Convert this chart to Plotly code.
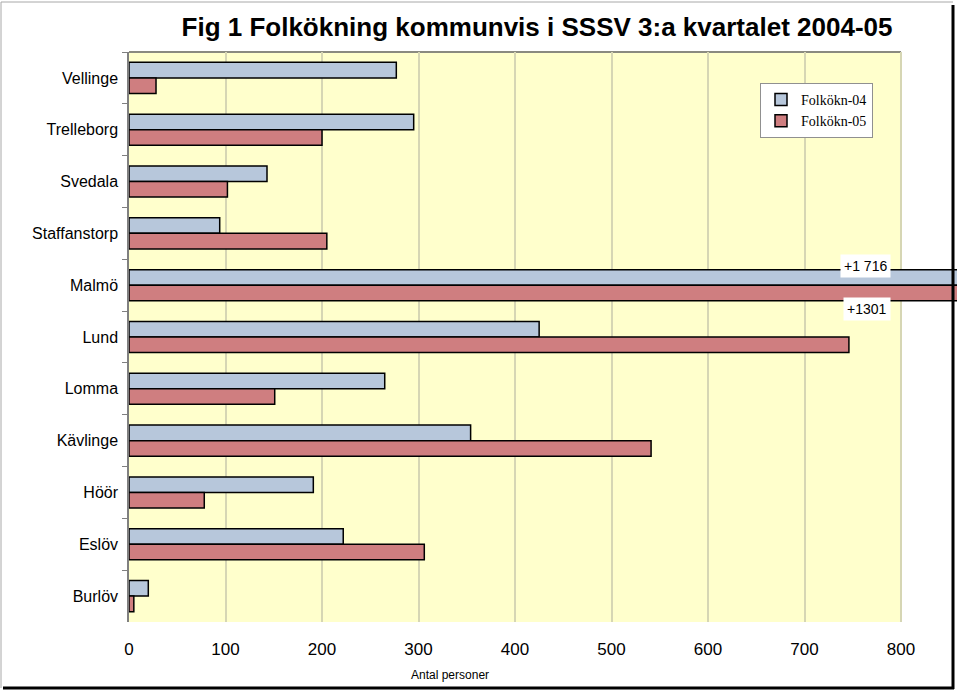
"""Fig 1: population growth per municipality, SSSV Q3 2004-05."""

import plotly.graph_objects as go

KOMMUNER = [
    "Vellinge", "Trelleborg", "Svedala", "Staffanstorp", "Malmö", "Lund",
    "Lomma", "Kävlinge", "Höör", "Eslöv", "Burlöv",
]
FOLKOKN_04 = [277, 295, 143, 94, 1716, 425, 265, 354, 191, 222, 20]
FOLKOKN_05 = [28, 200, 102, 205, 1301, 746, 151, 541, 78, 306, 5]
X_TICKS = [0, 100, 200, 300, 400, 500, 600, 700, 800]

# labels for the two Malmö bars that run off the chart
MALMO_LABELS = ["+1 716", "+1301"]

blue = "rgb(183,199,219)"
red = "rgb(207,126,128)"
font_sans = "Liberation Sans, Arial, sans-serif"
font_serif = "Liberation Serif, Times New Roman, serif"

W, H = 960, 691
PL, PR, PT, PB = 129, 957, 52, 622   # plot area in px (runs past 800 so Malmö overflows)
X_MAX = 858                          # axis value at the right edge of the plot area


def px(x):
    return (x - PL) / (PR - PL)


def py(y):
    return (PB - y) / (PB - PT)


fig = go.Figure()

fig.add_trace(go.Bar(
    y=KOMMUNER,
    x=FOLKOKN_04,
    orientation="h",
    name="Folkökn-04",
    marker=dict(color=blue, line=dict(color="black", width=1.5)),
))
fig.add_trace(go.Bar(
    y=KOMMUNER,
    x=FOLKOKN_05,
    orientation="h",
    name="Folkökn-05",
    marker=dict(color=red, line=dict(color="black", width=1.5)),
))

# yellow plot area only up to 800, with grey top/right border
fig.add_shape(type="rect", xref="x", yref="paper", x0=0, x1=800, y0=0, y1=1,
              fillcolor="#FFFFCC", line=dict(width=0), layer="below")
fig.add_shape(type="line", xref="x", yref="paper", x0=0, x1=800, y0=1, y1=1,
              line=dict(color="#8a8a80", width=2), layer="below")
fig.add_shape(type="line", xref="x", yref="paper", x0=800, x1=800, y0=0, y1=1,
              line=dict(color="#a0a090", width=1), layer="below")

# value labels next to the clipped Malmö bars
fig.add_annotation(x=763, y="Malmö", text=MALMO_LABELS[0], showarrow=False,
                   yshift=19, bgcolor="white", borderpad=3,
                   font=dict(family=font_sans, size=14, color="black"))
fig.add_annotation(x=765, y="Malmö", text=MALMO_LABELS[1], showarrow=False,
                   yshift=-24, bgcolor="white", borderpad=3,
                   font=dict(family=font_sans, size=14, color="black"))

# axis title sits left of centre in the original
fig.add_annotation(x=px(450), y=py(675), xref="paper", yref="paper",
                   xanchor="center", yanchor="middle",
                   text="Antal personer", showarrow=False,
                   font=dict(family=font_sans, size=12, color="black"))

# chart frame: thin grey top/left, heavy black right/bottom
frame = [
    (1, 2, 1, 688, "#a8a8a8", 1),
    (1, 2, 953, 2, "#a8a8a8", 1),
    (953, 5, 953, 689, "black", 3),
    (3, 688, 954, 688, "black", 3),
]
for x0, y0, x1, y1, col, wid in frame:
    fig.add_shape(type="line", xref="paper", yref="paper",
                  x0=px(x0), x1=px(x1), y0=py(y0), y1=py(y1),
                  line=dict(color=col, width=wid), layer="above")

fig.update_layout(
    width=W,
    height=H,
    margin=dict(l=PL, r=W - PR, t=PT, b=H - PB),
    paper_bgcolor="white",
    plot_bgcolor="white",
    barmode="group",
    bargap=0.4,
    bargroupgap=0,
    title=dict(
        text="<b>Fig 1 Folkökning kommunvis i SSSV 3:a kvartalet 2004-05</b>",
        x=537 / W, xanchor="center", y=1 - 27 / H, yanchor="middle",
        font=dict(family=font_sans, size=26, color="black"),
    ),
    legend=dict(
        x=px(873), y=py(83), xanchor="right", yanchor="top",
        bgcolor="white", bordercolor="#909090", borderwidth=1,
        font=dict(family=font_serif, size=14, color="black"),
        tracegroupgap=0,
    ),
    xaxis=dict(
        range=[0, X_MAX],
        tickvals=X_TICKS,
        ticks="",
        ticklabelstandoff=15,
        showgrid=True,
        gridcolor="#D6D6B4",
        gridwidth=1.5,
        zeroline=False,
        showline=False,
        tickfont=dict(family=font_sans, size=17, color="black"),
    ),
    yaxis=dict(
        categoryorder="array",
        categoryarray=KOMMUNER,
        autorange="reversed",
        ticks="outside",
        tickson="boundaries",
        ticklen=5,
        tickcolor="#808080",
        ticklabelstandoff=6,
        showgrid=False,
        showline=True,
        linecolor="#808080",
        linewidth=1.5,
        mirror=False,
        tickfont=dict(family=font_sans, size=16, color="black"),
    ),
)

fig.write_html("out.html", config={"displayModeBar": False},
               post_script="document.body.style.margin='0';")
